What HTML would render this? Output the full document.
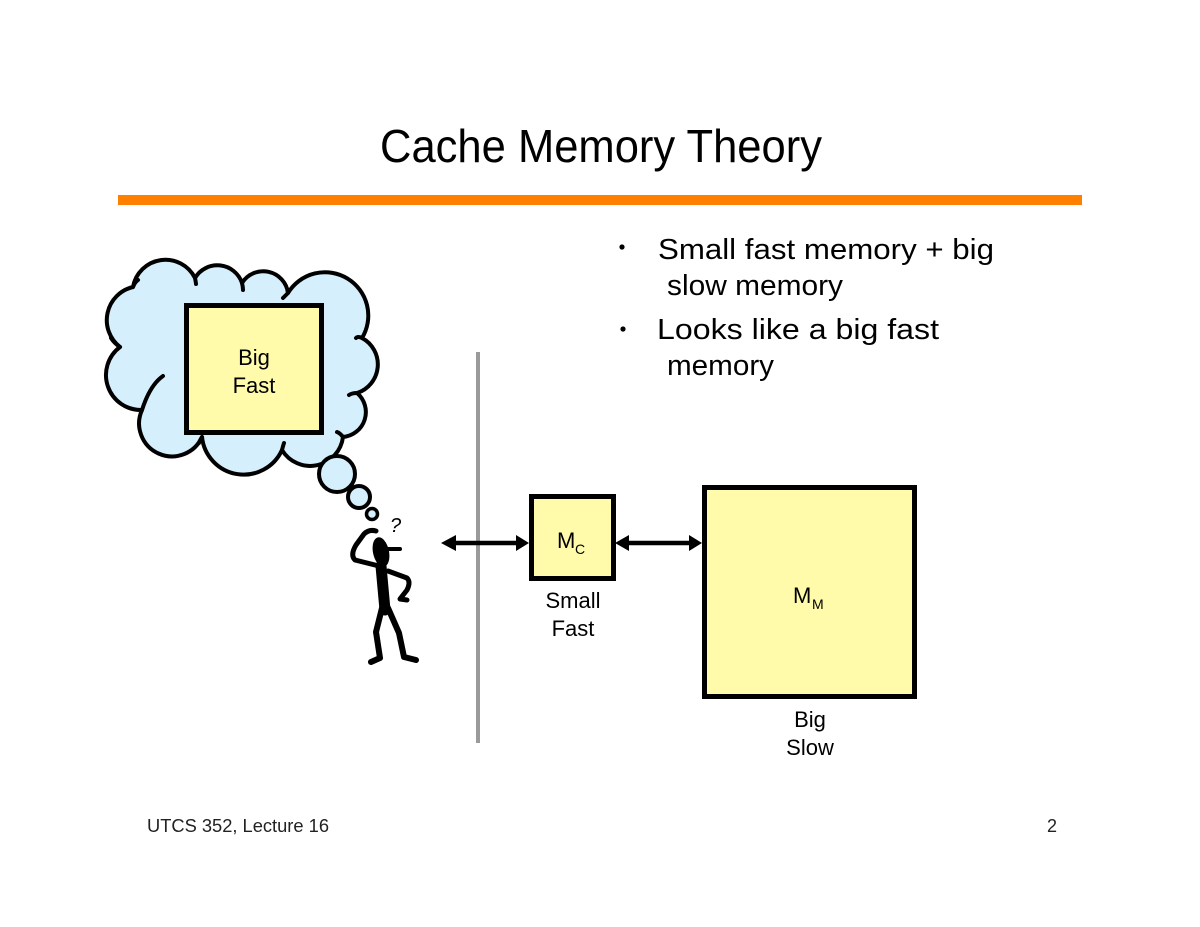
<!DOCTYPE html>
<html>
<head>
<meta charset="utf-8">
<style>
  html,body{margin:0;padding:0;background:#fff;}
  svg{display:block;}
</style>
</head>
<body>
<svg width="1200" height="927" viewBox="0 0 1200 927" xmlns="http://www.w3.org/2000/svg">
  <rect width="1200" height="927" fill="#fff"/>

  <!-- Title -->
  <text x="380" y="162" font-family="Liberation Sans, sans-serif" font-size="46" fill="#000" textLength="442" lengthAdjust="spacingAndGlyphs">Cache Memory Theory</text>

  <!-- Orange rule -->
  <rect x="118" y="195" width="964" height="10" fill="#FF8000"/>

  <!-- Bullets -->
  <circle cx="622" cy="247" r="2.6" fill="#000"/>
  <text x="658" y="259" font-family="Liberation Sans, sans-serif" font-size="29" fill="#000" textLength="336" lengthAdjust="spacingAndGlyphs">Small fast memory + big</text>
  <text x="667" y="295" font-family="Liberation Sans, sans-serif" font-size="29" fill="#000" textLength="176" lengthAdjust="spacingAndGlyphs">slow memory</text>
  <circle cx="623" cy="329" r="2.6" fill="#000"/>
  <text x="657" y="339" font-family="Liberation Sans, sans-serif" font-size="29" fill="#000" textLength="282" lengthAdjust="spacingAndGlyphs">Looks like a big fast</text>
  <text x="667" y="375" font-family="Liberation Sans, sans-serif" font-size="29" fill="#000" textLength="107" lengthAdjust="spacingAndGlyphs">memory</text>

  <!-- Cloud -->
  <path d="M142,410
           A35,35 0 0 1 120,347
           A34,34 0 0 1 133,287
           A33,33 0 0 1 195,278
           A26,26 0 0 1 242,283
           A25,25 0 0 1 288,293
           A42,42 0 0 1 362,338
           A30,30 0 0 1 357,393
           A25,25 0 0 1 343,437
           A33,33 0 0 1 282,450
           A42,42 0 0 1 202,437
           A32,32 0 0 1 142,410 Z"
        fill="#D6EFFC" stroke="#000" stroke-width="4" stroke-linejoin="round"/>
  <!-- inner curls -->
  <path d="M120,347 Q114,343 111,338" fill="none" stroke="#000" stroke-width="4" stroke-linecap="round"/>
  <path d="M142,410 Q150,385 163,376" fill="none" stroke="#000" stroke-width="4" stroke-linecap="round"/>
  <path d="M133,287 Q135,282 138,280" fill="none" stroke="#000" stroke-width="4" stroke-linecap="round"/>
  <path d="M195,278 Q196,283 196,284" fill="none" stroke="#000" stroke-width="4" stroke-linecap="round"/>
  <path d="M242,283 Q243,287 243,290" fill="none" stroke="#000" stroke-width="4" stroke-linecap="round"/>
  <path d="M288,293 Q285,296 283,298" fill="none" stroke="#000" stroke-width="4" stroke-linecap="round"/>
  <path d="M362,338 Q358,336 356,338" fill="none" stroke="#000" stroke-width="4" stroke-linecap="round"/>
  <path d="M357,393 Q352,393 349,395" fill="none" stroke="#000" stroke-width="4" stroke-linecap="round"/>
  <path d="M343,437 Q340,433 337,432" fill="none" stroke="#000" stroke-width="4" stroke-linecap="round"/>
  <path d="M282,450 Q283,446 284,443" fill="none" stroke="#000" stroke-width="4" stroke-linecap="round"/>
  <path d="M202,437 Q200,440 199,443" fill="none" stroke="#000" stroke-width="4" stroke-linecap="round"/>

  <!-- Thought bubbles -->
  <circle cx="337" cy="474" r="18" fill="#D6EFFC" stroke="#000" stroke-width="4"/>
  <circle cx="359" cy="497" r="11" fill="#D6EFFC" stroke="#000" stroke-width="4"/>
  <circle cx="372" cy="514" r="5.5" fill="#D6EFFC" stroke="#000" stroke-width="3.5"/>

  <!-- Big Fast box -->
  <rect x="186.5" y="305.5" width="135" height="127" fill="#FFFBAA" stroke="#000" stroke-width="5"/>
  <text x="254" y="365" font-family="Liberation Sans, sans-serif" font-size="22" text-anchor="middle" fill="#000">Big</text>
  <text x="254" y="393" font-family="Liberation Sans, sans-serif" font-size="22" text-anchor="middle" fill="#000">Fast</text>

  <!-- Stick figure -->
  <g fill="none" stroke="#000" stroke-linecap="round" stroke-linejoin="round">
    <!-- raised arm -->
    <path d="M379,566 L355,560 Q350,555 356,545 L364,534 Q369,529 376,531" stroke-width="5"/>
    <!-- hip arm -->
    <path d="M388,571 L407,578 Q411,582 407,590 L400,599 L407,600" stroke-width="5"/>
    <!-- body -->
    <path d="M381,566 L385,610" stroke-width="11"/>
    <!-- legs -->
    <path d="M382,608 L376,632 L380,658 L371,662" stroke-width="6"/>
    <path d="M388,608 L399,633 L404,657 L416,660" stroke-width="6"/>
    <!-- nose / hat brim -->
    <path d="M388,549 L400,549" stroke-width="4"/>
  </g>
  <ellipse cx="381" cy="552" rx="8" ry="15" transform="rotate(-12 381 552)" fill="#000"/>
  <text x="390" y="532" font-family="Liberation Sans, sans-serif" font-size="20" font-style="italic" fill="#000">?</text>

  <!-- Gray divider -->
  <rect x="476" y="352" width="4" height="391" fill="#9A9A9A"/>

  <!-- Arrow 1 -->
  <line x1="452" y1="543" x2="520" y2="543" stroke="#000" stroke-width="4.5"/>
  <polygon points="441,543 456,535 456,551" fill="#000"/>
  <polygon points="529,543 516,535 516,551" fill="#000"/>

  <!-- Mc box -->
  <rect x="531.5" y="496.5" width="82" height="82" fill="#FFFBAA" stroke="#000" stroke-width="5"/>
  <text x="557" y="548" font-family="Liberation Sans, sans-serif" font-size="22" fill="#000">M</text>
  <text x="575" y="554" font-family="Liberation Sans, sans-serif" font-size="14" fill="#000">C</text>
  <text x="573" y="608" font-family="Liberation Sans, sans-serif" font-size="22" text-anchor="middle" fill="#000">Small</text>
  <text x="573" y="636" font-family="Liberation Sans, sans-serif" font-size="22" text-anchor="middle" fill="#000">Fast</text>

  <!-- Arrow 2 -->
  <line x1="625" y1="543" x2="693" y2="543" stroke="#000" stroke-width="4.5"/>
  <polygon points="615,543 629,535 629,551" fill="#000"/>
  <polygon points="702,543 689,535 689,551" fill="#000"/>

  <!-- MM box -->
  <rect x="704.5" y="487.5" width="210" height="209" fill="#FFFBAA" stroke="#000" stroke-width="5"/>
  <text x="793" y="603" font-family="Liberation Sans, sans-serif" font-size="22" fill="#000">M</text>
  <text x="812" y="609" font-family="Liberation Sans, sans-serif" font-size="14" fill="#000">M</text>
  <text x="810" y="727" font-family="Liberation Sans, sans-serif" font-size="22" text-anchor="middle" fill="#000">Big</text>
  <text x="810" y="755" font-family="Liberation Sans, sans-serif" font-size="22" text-anchor="middle" fill="#000">Slow</text>

  <!-- Footer -->
  <text x="147" y="832" font-family="Liberation Sans, sans-serif" font-size="18" fill="#222" textLength="182" lengthAdjust="spacingAndGlyphs">UTCS 352, Lecture 16</text>
  <text x="1047" y="832" font-family="Liberation Sans, sans-serif" font-size="18" fill="#222">2</text>
</svg>
</body>
</html>
